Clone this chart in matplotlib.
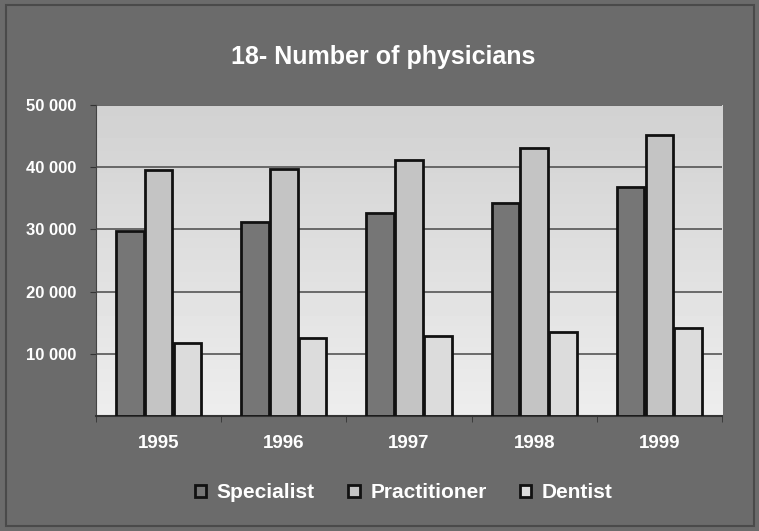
import matplotlib.pyplot as plt
import numpy as np
from matplotlib.patches import Rectangle

years = ['1995', '1996', '1997', '1998', '1999']
specialist = [29700, 31200, 32600, 34200, 36800]
practitioner = [39500, 39700, 41200, 43100, 45100]
dentist = [11700, 12500, 12900, 13500, 14200]

series = [('Specialist', specialist, '#767676'),
          ('Practitioner', practitioner, '#c4c4c4'),
          ('Dentist', dentist, '#dcdcdc')]

plt.rcParams['font.family'] = ['Liberation Sans', 'DejaVu Sans']

fig = plt.figure(figsize=(7.59, 5.31), dpi=100, facecolor='#6b6b6b')
fig.patches.append(Rectangle((0.008, 0.01), 0.986, 0.98, transform=fig.transFigure,
                             fill=False, edgecolor='#4a4a4a', linewidth=1.5))

ax = fig.add_axes([0.1265, 0.2166, 0.8248, 0.5857])
ax.set_facecolor('#e2e2e2')

# light vertical gradient behind the bars
grad = np.linspace(0.82, 0.93, 100).reshape(-1, 1)
ax.imshow(grad, extent=(-0.5, 4.5, 0, 50000), aspect='auto', cmap='gray',
          vmin=0, vmax=1, origin='upper', zorder=0)

x = np.arange(len(years))
width = 0.22
offsets = [-0.23, 0, 0.23]
for (name, vals, color), off in zip(series, offsets):
    ax.bar(x + off, vals, width, color=color, edgecolor='#111111',
           linewidth=2, label=name, zorder=3)

ax.set_xlim(-0.5, 4.5)
ax.set_ylim(0, 50000)
ax.set_yticks([10000, 20000, 30000, 40000, 50000])
ax.set_yticklabels(['10 000', '20 000', '30 000', '40 000', '50 000'])
ax.yaxis.grid(True, color='#555555', linewidth=1.2, zorder=1)
ax.set_axisbelow(True)

ax.set_xticks(x)
ax.set_xticklabels(years)
ax.set_xticks(np.arange(-0.5, 5, 1), minor=True)
ax.tick_params(axis='x', which='major', length=0, pad=14)
ax.tick_params(axis='x', which='minor', length=4, color='#333333')
ax.tick_params(axis='y', length=4, color='#333333', pad=10)
for lab in ax.get_yticklabels():
    lab.set_color('white')
    lab.set_fontweight('bold')
    lab.set_fontsize(12)
for lab in ax.get_xticklabels():
    lab.set_color('white')
    lab.set_fontweight('bold')
    lab.set_fontsize(13.5)

for side in ['top', 'right']:
    ax.spines[side].set_visible(False)
ax.spines['left'].set_color('#444444')
ax.spines['bottom'].set_color('#333333')
ax.spines['bottom'].set_linewidth(1.5)

fig.text(0.505, 0.893, '18- Number of physicians', ha='center', va='center',
         color='white', fontsize=18, fontweight='bold')

leg = fig.legend(loc='center', bbox_to_anchor=(0.532, 0.072), ncol=3, frameon=False,
                 handlelength=0.55, handleheight=0.55, handletextpad=0.5,
                 columnspacing=1.6, fontsize=15)
for t in leg.get_texts():
    t.set_color('white')
    t.set_fontweight('bold')

fig.savefig('out.png', dpi=100, facecolor=fig.get_facecolor())
